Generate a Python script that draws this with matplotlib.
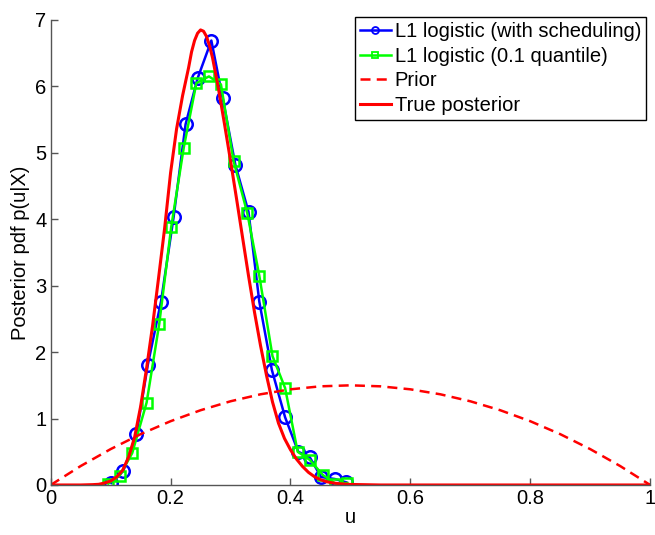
import numpy as np
import matplotlib
matplotlib.use("Agg")
import matplotlib.pyplot as plt

plt.rcParams['font.family'] = ['Liberation Sans', 'DejaVu Sans']

# L1 logistic (with scheduling) - lecture sur l'image
u_sched = [0.101, 0.121, 0.143, 0.162, 0.184, 0.205, 0.225, 0.245, 0.268, 0.287,
           0.308, 0.330, 0.348, 0.369, 0.391, 0.413, 0.432, 0.451, 0.474, 0.493]
p_sched = [0.03, 0.21, 0.76, 1.81, 2.76, 4.03, 5.43, 6.12, 6.69, 5.82,
           4.82, 4.11, 2.76, 1.73, 1.02, 0.50, 0.42, 0.12, 0.09, 0.04]

# L1 logistic (0.1 quantile)
u_quant = [0.096, 0.115, 0.136, 0.160, 0.181, 0.201, 0.222, 0.243, 0.264, 0.284,
           0.305, 0.328, 0.348, 0.370, 0.391, 0.412, 0.432, 0.454, 0.475, 0.495]
p_quant = [0.02, 0.14, 0.48, 1.24, 2.42, 3.88, 5.08, 6.05, 6.15, 6.03,
           4.88, 4.09, 3.15, 1.94, 1.46, 0.50, 0.38, 0.15, 0.02, 0.03]

# Prior
u_prior = [0.0, 0.05, 0.10, 0.15, 0.20, 0.25, 0.30, 0.35, 0.40, 0.45, 0.50,
           0.55, 0.60, 0.65, 0.70, 0.75, 0.80, 0.85, 0.90, 0.95, 1.0]
p_prior = [0.0, 0.285, 0.54, 0.765, 0.96, 1.125, 1.26, 1.365, 1.44, 1.485, 1.5,
           1.485, 1.44, 1.365, 1.26, 1.125, 0.96, 0.765, 0.54, 0.285, 0.0]

# True posterior
u_true = [0.0, 0.05, 0.07, 0.08, 0.09, 0.10, 0.11, 0.12, 0.13, 0.14, 0.15, 0.16,
          0.17, 0.18, 0.19, 0.20, 0.21, 0.22, 0.23, 0.235, 0.24, 0.245, 0.25,
          0.255, 0.26, 0.265, 0.27, 0.28, 0.29, 0.30, 0.31, 0.32, 0.33, 0.34,
          0.35, 0.36, 0.37, 0.38, 0.39, 0.40, 0.41, 0.42, 0.43, 0.44, 0.45,
          0.46, 0.47, 0.48, 0.50, 0.55, 1.0]
p_true = [0.0, 0.0, 0.005, 0.01, 0.03, 0.06, 0.12, 0.22, 0.42, 0.72, 1.18, 1.76,
          2.40, 3.12, 3.86, 4.70, 5.36, 5.86, 6.28, 6.52, 6.69, 6.80, 6.85,
          6.83, 6.75, 6.61, 6.43, 5.96, 5.43, 4.88, 4.31, 3.73, 3.15, 2.60,
          2.10, 1.65, 1.25, 0.93, 0.70, 0.53, 0.39, 0.28, 0.19, 0.125, 0.08,
          0.05, 0.032, 0.02, 0.008, 0.0, 0.0]

fig = plt.figure(figsize=(6.55, 5.35), dpi=100)
ax = fig.add_axes([0.0774, 0.0935, 0.9152, 0.8692])

ax.plot(u_sched, p_sched, color=(0, 0, 1), lw=1.8, marker='o', ms=9,
        mfc='none', mec=(0, 0, 1), mew=1.8, label='L1 logistic (with scheduling)')
ax.plot(u_quant, p_quant, color=(0, 1, 0), lw=1.8, marker='s', ms=7.5,
        mfc='none', mec=(0, 1, 0), mew=1.8, label='L1 logistic (0.1 quantile)')
ax.plot(u_prior, p_prior, color=(1, 0, 0), lw=1.8, ls=(0, (4, 2.5)), label='Prior')
ax.plot(u_true, p_true, color=(1, 0, 0), lw=2.2, label='True posterior')

ax.set_xlim(0, 1)
ax.set_ylim(0, 7)
ax.set_xticks([0, 0.2, 0.4, 0.6, 0.8, 1])
ax.set_xticklabels(['0', '0.2', '0.4', '0.6', '0.8', '1'])
ax.set_yticks(range(8))
ax.spines['top'].set_visible(False)
ax.spines['right'].set_visible(False)
for s in ['left', 'bottom']:
    ax.spines[s].set_color('#555555')
    ax.spines[s].set_linewidth(1.0)
ax.tick_params(direction='in', length=5, width=1, color='#555555',
               labelsize=14.5, pad=3)
ax.set_xlabel('u', fontsize=14.5, labelpad=0)
ax.set_ylabel('Posterior pdf p(u|X)', fontsize=14.5, labelpad=4)

leg = ax.legend(loc='upper right', bbox_to_anchor=(646 / 655, 1 - 17 / 535),
                bbox_transform=fig.transFigure, fontsize=14.5, frameon=True,
                fancybox=False, edgecolor='black', framealpha=1,
                handlelength=1.5, handletextpad=0.2, labelspacing=0.28,
                borderpad=0.25, borderaxespad=0)
leg.get_frame().set_linewidth(1.0)
# petits marqueurs creux dans la legende
for line in leg.get_lines():
    line.set_markersize(5)
    line.set_markeredgewidth(1.3)

fig.savefig('out.png', dpi=100)
